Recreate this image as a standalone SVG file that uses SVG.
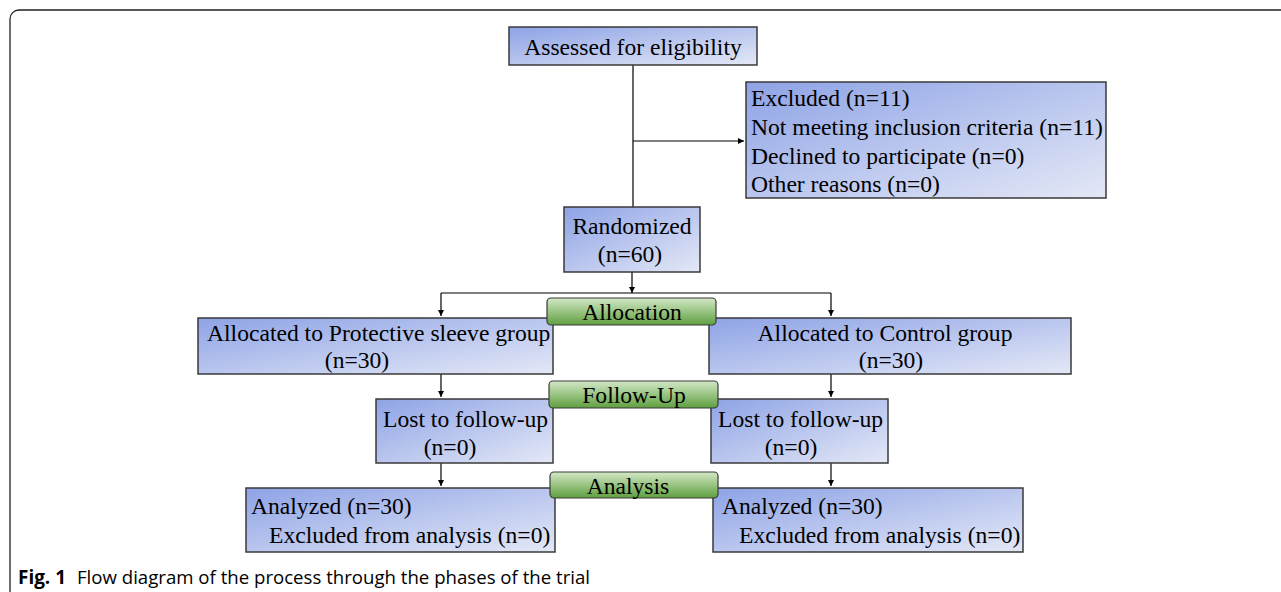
<svg xmlns="http://www.w3.org/2000/svg" width="1281" height="592" viewBox="0 0 1281 592">
<defs>
<linearGradient id="blue" x1="0" y1="0" x2="1" y2="1">
<stop offset="0" stop-color="#8ea3e6"/>
<stop offset="1" stop-color="#e4e8f6"/>
</linearGradient>
<linearGradient id="green" x1="0" y1="0" x2="0" y2="1">
<stop offset="0" stop-color="#d3e8c6"/>
<stop offset="1" stop-color="#5f9f3f"/>
</linearGradient>
<marker id="arr" markerWidth="6" markerHeight="6" refX="6" refY="3" orient="auto" markerUnits="userSpaceOnUse">
<path d="M0,0 L6,3 L0,6 Z" fill="#000"/>
</marker>
<style>
.box{fill:url(#blue);stroke:#3a3a3a;stroke-width:1.5}
.lab{fill:url(#green);stroke:#3a3a3a;stroke-width:1.2}
.t{font-family:"Liberation Serif","Times New Roman",serif;font-size:23.6px;fill:#000}
.c{text-anchor:middle}
.ln{stroke:#000;stroke-width:1.2;fill:none}
.cap{font-family:"Open Sans","Liberation Sans",sans-serif;font-size:19px;fill:#000}
</style>
</defs>
<rect x="0" y="0" width="1281" height="592" fill="#fff"/>
<rect x="10" y="10" width="1300" height="590" rx="9" fill="none" stroke="#222" stroke-width="1.3"/>

<g id="connectors">
<path class="ln" d="M633,65 V207"/>
<path class="ln" d="M633,141 H744" marker-end="url(#arr)"/>
<path class="ln" d="M632,272 V293" marker-end="url(#arr)"/>
<path class="ln" d="M441,293 H831"/>
<path class="ln" d="M441,293 V316" marker-end="url(#arr)"/>
<path class="ln" d="M831,293 V316" marker-end="url(#arr)"/>
<path class="ln" d="M441,374 V397" marker-end="url(#arr)"/>
<path class="ln" d="M831,374 V397" marker-end="url(#arr)"/>
<path class="ln" d="M441,463 V486" marker-end="url(#arr)"/>
<path class="ln" d="M831,463 V486" marker-end="url(#arr)"/>
</g>

<g id="assessed">
<rect class="box" x="509" y="27" width="248" height="38"/>
<text class="t c" x="633" y="55">Assessed for eligibility</text>
</g>
<g id="excluded">
<rect class="box" x="746" y="82" width="360" height="116"/>
<text class="t" x="751" y="106">Excluded (n=11)</text>
<text class="t" x="751" y="135">Not meeting inclusion criteria (n=11)</text>
<text class="t" x="751" y="164">Declined to participate (n=0)</text>
<text class="t" x="751" y="192">Other reasons (n=0)</text>
</g>
<g id="randomized">
<rect class="box" x="564" y="207" width="136" height="65"/>
<text class="t c" x="632" y="234">Randomized</text>
<text class="t c" x="630" y="262">(n=60)</text>
</g>
<g id="alloc-left">
<rect class="box" x="198" y="318" width="355" height="56"/>
<text class="t" x="207" y="341">Allocated to Protective sleeve group</text>
<text class="t c" x="357" y="368">(n=30)</text>
</g>
<g id="alloc-right">
<rect class="box" x="709" y="318" width="362" height="56"/>
<text class="t c" x="885" y="341">Allocated to Control group</text>
<text class="t c" x="891" y="368">(n=30)</text>
</g>
<g id="allocation">
<rect class="lab" x="547" y="298" width="169" height="27" rx="4"/>
<text class="t c" x="632" y="320">Allocation</text>
</g>
<g id="lost-left">
<rect class="box" x="376" y="399" width="177" height="64"/>
<text class="t" x="383" y="427">Lost to follow-up</text>
<text class="t c" x="450" y="455">(n=0)</text>
</g>
<g id="lost-right">
<rect class="box" x="711" y="399" width="177" height="64"/>
<text class="t" x="718" y="427">Lost to follow-up</text>
<text class="t c" x="791" y="455">(n=0)</text>
</g>
<g id="followup">
<rect class="lab" x="549" y="381" width="169" height="27" rx="4"/>
<text class="t c" x="634" y="403">Follow-Up</text>
</g>
<g id="analyzed-left">
<rect class="box" x="246" y="488" width="309" height="64"/>
<text class="t" x="251" y="514">Analyzed (n=30)</text>
<text class="t" x="269" y="543">Excluded from analysis (n=0)</text>
</g>
<g id="analyzed-right">
<rect class="box" x="713" y="488" width="310" height="64"/>
<text class="t" x="722" y="514">Analyzed (n=30)</text>
<text class="t" x="739" y="543">Excluded from analysis (n=0)</text>
</g>
<g id="analysis">
<rect class="lab" x="550" y="472" width="168" height="26" rx="4"/>
<text class="t c" x="628" y="494">Analysis</text>
</g>

<text class="cap" x="18" y="584"><tspan font-weight="bold" textLength="48" lengthAdjust="spacingAndGlyphs">Fig. 1</tspan><tspan x="77" textLength="513" lengthAdjust="spacingAndGlyphs">Flow diagram of the process through the phases of the trial</tspan></text>
</svg>
